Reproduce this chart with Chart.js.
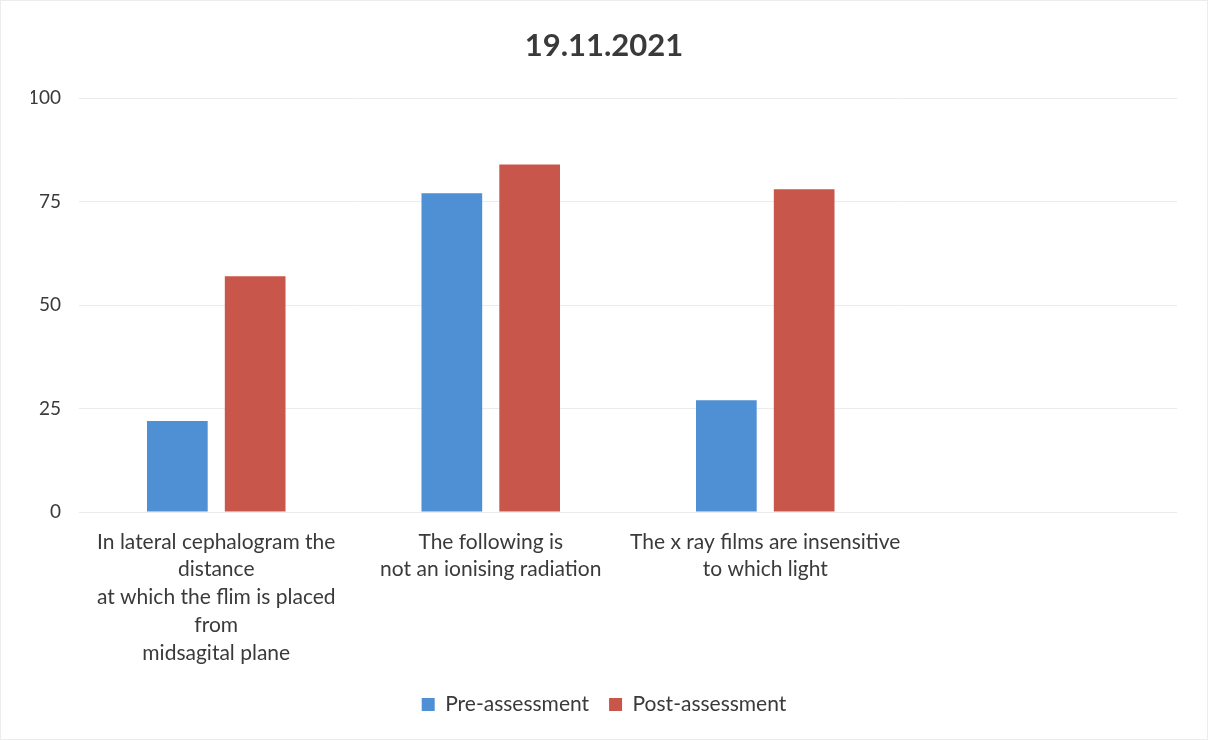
<!DOCTYPE html>
<html>
<head>
<meta charset="utf-8">
<script src="https://cdn.jsdelivr.net/npm/chart.js@4/dist/chart.umd.min.js"></script>
<style>
  html, body { margin: 0; padding: 0; background: #fff; }
  #wrap { width: 1208px; height: 740px; position: relative; box-sizing: border-box; border: 1px solid #ececec; }
</style>
</head>
<body>
<div id="wrap"><canvas id="chart"></canvas></div>
<script>
// --- dados ---
const categories = [
    ['In lateral cephalogram the', 'distance', 'at which the flim is placed', 'from', 'midsagital plane'],
    ['The following is', 'not an ionising radiation'],
    ['The x ray films are insensitive', 'to which light'],
    ''
];
const preAssessment = [22, 77, 27, null];
const postAssessment = [57, 84, 78, null];
const yTicks = [0, 25, 50, 75, 100];

const textColor = '#3a3a3a';
const fontFamily = 'Lato, "Open Sans", sans-serif';

new Chart(document.getElementById('chart').getContext('2d'), {
    type: 'bar',
    data: {
        labels: categories,
        datasets: [
            { label: 'Pre-assessment', data: preAssessment, backgroundColor: '#4F8FD3' },
            { label: 'Post-assessment', data: postAssessment, backgroundColor: '#C9564A' }
        ]
    },
    options: {
        responsive: true,
        maintainAspectRatio: false,
        animation: false,
        categoryPercentage: 0.567,
        barPercentage: 0.78,
        layout: { padding: { top: 16, right: 30, bottom: 14, left: 30 } },
        plugins: {
            title: {
                display: true,
                text: '19.11.2021',
                color: textColor,
                font: { family: fontFamily, size: 31, weight: 'bold' },
                padding: { top: 10, bottom: 34 }
            },
            legend: {
                position: 'bottom',
                labels: {
                    color: textColor,
                    font: { family: fontFamily, size: 21 },
                    boxWidth: 13,
                    boxHeight: 13,
                    padding: 20
                }
            },
            tooltip: { enabled: false }
        },
        scales: {
            x: {
                grid: { display: false },
                border: { display: false },
                ticks: {
                    color: textColor,
                    font: { family: fontFamily, size: 21, lineHeight: 1.32 },
                    padding: 8,
                    maxRotation: 0,
                    autoSkip: false
                },
                afterFit: (scale) => { scale.height = 162; }
            },
            y: {
                min: 0,
                max: 100,
                afterBuildTicks: (scale) => { scale.ticks = yTicks.map(v => ({ value: v })); },
                grid: { color: '#ebebeb', drawTicks: false },
                border: { display: false },
                ticks: {
                    color: textColor,
                    font: { family: fontFamily, size: 19 },
                    padding: 18
                },
                afterFit: (scale) => { scale.width = 48; }
            }
        }
    }
});
</script>
</body>
</html>
